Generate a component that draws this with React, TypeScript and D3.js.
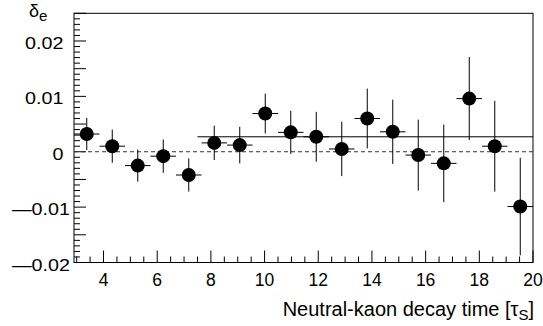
import { useEffect, useRef } from "react";
import * as d3 from "d3";

// bin centres (decay time, in units of tau_S), bin width 0.95
const binCenters = [3.375, 4.325, 5.275, 6.225, 7.175, 8.125, 9.075, 10.025, 10.975, 11.925, 12.875, 13.825, 14.775, 15.725, 16.675, 17.625, 18.575, 19.525];
const binHalfWidth = 0.475;
const deltaE = [0.0032, 0.001, -0.0025, -0.0008, -0.0042, 0.0016, 0.0012, 0.0069, 0.0035, 0.0027, 0.0005, 0.006, 0.0036, -0.0006, -0.0021, 0.0096, 0.001, -0.0099];
const deltaErr = [0.0029, 0.003, 0.0029, 0.003, 0.003, 0.0031, 0.0033, 0.0036, 0.0039, 0.0045, 0.0049, 0.0054, 0.0058, 0.0064, 0.007, 0.0075, 0.0082, 0.0088];
const fitValue = 0.0027;
const fitRange = [7.5, 20];
const xTickLabels = [4, 6, 8, 10, 12, 14, 16, 18, 20];
const yTickLabels = [-0.02, -0.01, 0, 0.01, 0.02];

const App = () => {
    const ref = useRef<SVGSVGElement>(null);

    useEffect(() => {
        const width = 543;
        const height = 326;
        const frame = { left: 74, right: 533, top: 13.3, bottom: 262.5 };
        const font = "'Liberation Sans', Arial, sans-serif";

        const svg = d3.select(ref.current);
        svg.selectAll("*").remove();
        svg.attr("width", width).attr("height", height);

        const x = d3.scaleLinear().domain([2.9, 20]).range([frame.left, frame.right]);
        const y = d3.scaleLinear().domain([-0.02, 0.025]).range([frame.bottom, frame.top]);

        const data = binCenters.map((c, i) => ({ c, v: deltaE[i], e: deltaErr[i] }));

        // frame
        svg.append("rect")
            .attr("x", frame.left).attr("y", frame.top)
            .attr("width", frame.right - frame.left).attr("height", frame.bottom - frame.top)
            .attr("fill", "white").attr("stroke", "black").attr("stroke-width", 1);

        // x ticks (inside, pointing up)
        const xMinor = d3.range(3, 20.01, 0.5);
        svg.append("g").selectAll("line").data(xMinor).join("line")
            .attr("x1", d => x(d)).attr("x2", d => x(d))
            .attr("y1", frame.bottom)
            .attr("y2", d => frame.bottom - (Math.abs(d % 2) < 1e-6 ? 12 : 6))
            .attr("stroke", "black");

        // y ticks (inside, pointing right)
        const yMinor = d3.range(-20, 25.5, 1).map(v => v / 1000);
        svg.append("g").selectAll("line").data(yMinor).join("line")
            .attr("x1", frame.left)
            .attr("x2", (d, i) => frame.left + ((i % 5) === 0 ? 12 : 6))
            .attr("y1", d => y(d)).attr("y2", d => y(d))
            .attr("stroke", "black");

        // x labels
        svg.append("g").selectAll("text").data(xTickLabels).join("text")
            .attr("x", d => x(d)).attr("y", 285.5)
            .attr("text-anchor", "middle")
            .attr("font-family", font).attr("font-size", 17.5)
            .text(d => d);

        // y labels (ROOT-style wide glyphs)
        svg.append("g").selectAll("text").data(yTickLabels).join("text")
            .attr("transform", d => `translate(${d < 0 ? 70 : 63.5},${y(d) + 8}) scale(1.16,1)`)
            .attr("text-anchor", "end")
            .attr("font-family", font).attr("font-size", 17)
            .text(d => (d < 0 ? "\u2014" + Math.abs(d) : d === 0 ? "0" : String(d)));

        // zero line (dashed)
        svg.append("line")
            .attr("x1", frame.left).attr("x2", frame.right)
            .attr("y1", y(0)).attr("y2", y(0))
            .attr("stroke", "#333").attr("stroke-dasharray", "4,3");

        // fit line
        svg.append("line")
            .attr("x1", x(fitRange[0])).attr("x2", x(fitRange[1]))
            .attr("y1", y(fitValue)).attr("y2", y(fitValue))
            .attr("stroke", "black");

        svg.append("clipPath").attr("id", "plot-clip")
            .append("rect")
            .attr("x", frame.left).attr("y", frame.top)
            .attr("width", frame.right - frame.left).attr("height", frame.bottom - frame.top);

        const pts = svg.append("g").attr("clip-path", "url(#plot-clip)");

        // error bars
        pts.selectAll(".ey").data(data).join("line")
            .attr("x1", d => x(d.c)).attr("x2", d => x(d.c))
            .attr("y1", d => y(d.v - d.e)).attr("y2", d => y(d.v + d.e))
            .attr("stroke", "black");
        pts.selectAll(".ex").data(data).join("line")
            .attr("x1", d => x(d.c - binHalfWidth)).attr("x2", d => x(d.c + binHalfWidth))
            .attr("y1", d => y(d.v)).attr("y2", d => y(d.v))
            .attr("stroke", "black");

        // markers
        pts.selectAll("circle").data(data).join("circle")
            .attr("cx", d => x(d.c)).attr("cy", d => y(d.v))
            .attr("r", 7).attr("fill", "black");

        // axis titles
        const yt = svg.append("text")
            .attr("x", 29).attr("y", 17)
            .attr("font-family", font).attr("font-size", 18);
        yt.append("tspan").text("\u03B4");
        yt.append("tspan").attr("dy", 4).attr("font-size", 15).text("e");

        const xt = svg.append("text")
            .attr("x", 534).attr("y", 316)
            .attr("text-anchor", "end")
            .attr("font-family", font).attr("font-size", 20);
        xt.append("tspan").text("Neutral-kaon decay time [\u03C4");
        xt.append("tspan").attr("dy", 4).attr("font-size", 15).text("S");
        xt.append("tspan").attr("dy", -4).text("]");
    }, []);

    return (
        <div style={{ position: "absolute", left: 0, top: 0 }}>
            <svg ref={ref} />
        </div>
    );
};

export default App;
